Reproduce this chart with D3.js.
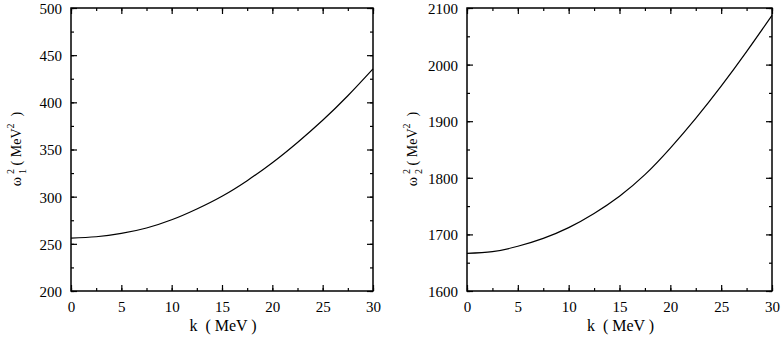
<!DOCTYPE html>
<html lang="en">
<head>
    <meta charset="UTF-8">
    <title>omega squared vs k</title>
    <script type="text/javascript" src="https://cdn.jsdelivr.net/npm/d3@7"></script>
    <style>
        body { margin: 0; background: #fff; }
        text { font-family: "Liberation Serif", "Times New Roman", serif; fill: #000; }
    </style>
</head>
<body>
    <script type="text/javascript">

        //Width and height
        var w = 781;
        var h = 341;

        // data
        var kValues = [0, 2.5, 5, 7.5, 10, 12.5, 15, 17.5, 20, 22.5, 25, 27.5, 30];
        var omega1Sq = [256, 257.5, 261, 266.8, 275.5, 287, 300.5, 317, 336, 357.5, 381, 407, 435.5];
        var omega2Sq = [1666.5, 1669.5, 1679, 1693, 1712, 1737, 1767.5, 1805.5, 1852.5, 1905, 1962, 2023, 2087];

        var kTicks = [0, 5, 10, 15, 20, 25, 30];
        var y1Ticks = [200, 250, 300, 350, 400, 450, 500];
        var y2Ticks = [1600, 1700, 1800, 1900, 2000, 2100];

        var svg = d3.select("body")
                    .append("svg")
                    .attr("width", w)
                    .attr("height", h);

        var panels = [
            { left: 71, right: 373, ys: omega1Sq, yDomain: [200, 500], yTicks: y1Ticks, yMinor: 25, labelX: 16, sub: "1" },
            { left: 467, right: 772, ys: omega2Sq, yDomain: [1600, 2100], yTicks: y2Ticks, yMinor: 50, labelX: 412, sub: "2" }
        ];
        var plotTop = 8, plotBottom = 291;

        panels.forEach(function(p) {
            var xScale = d3.scaleLinear().domain([0, 30]).range([p.left, p.right]);
            var yScale = d3.scaleLinear().domain(p.yDomain).range([plotBottom, plotTop]);

            var xMinor = d3.range(0, 30.01, 2.5);
            var yMinor = d3.range(p.yDomain[0], p.yDomain[1] + 0.01, p.yMinor);

            var g = svg.append("g");

            // minor ticks, all four sides, pointing inwards
            var minorAxes = [
                [d3.axisBottom(xScale).tickValues(xMinor), "translate(0," + plotBottom + ")"],
                [d3.axisTop(xScale).tickValues(xMinor), "translate(0," + plotTop + ")"],
                [d3.axisLeft(yScale).tickValues(yMinor), "translate(" + p.left + ",0)"],
                [d3.axisRight(yScale).tickValues(yMinor), "translate(" + p.right + ",0)"]
            ];
            minorAxes.forEach(function(a) {
                g.append("g")
                    .attr("transform", a[1])
                    .call(a[0].tickSize(-3).tickSizeOuter(0).tickFormat(""));
            });

            // major ticks
            g.append("g")
                .attr("class", "xaxis")
                .attr("transform", "translate(0," + plotBottom + ")")
                .call(d3.axisBottom(xScale).tickValues(kTicks).tickSize(-6).tickSizeOuter(0).tickPadding(10).tickFormat(d3.format("d")));
            g.append("g")
                .attr("transform", "translate(0," + plotTop + ")")
                .call(d3.axisTop(xScale).tickValues(kTicks).tickSize(-6).tickSizeOuter(0).tickFormat(""));
            g.append("g")
                .attr("class", "yaxis")
                .attr("transform", "translate(" + p.left + ",0)")
                .call(d3.axisLeft(yScale).tickValues(p.yTicks).tickSize(-6).tickSizeOuter(0).tickPadding(9).tickFormat(d3.format("d")));
            g.append("g")
                .attr("transform", "translate(" + p.right + ",0)")
                .call(d3.axisRight(yScale).tickValues(p.yTicks).tickSize(-6).tickSizeOuter(0).tickFormat(""));

            g.selectAll(".domain").remove();
            g.selectAll(".tick line").attr("stroke", "#000").attr("stroke-width", 1.2);
            g.selectAll(".tick text").attr("font-size", 15).attr("font-family", "Liberation Serif");
            g.selectAll(".yaxis .tick text").attr("dy", "0.36em");

            // frame
            g.append("rect")
                .attr("x", p.left)
                .attr("y", plotTop)
                .attr("width", p.right - p.left)
                .attr("height", plotBottom - plotTop)
                .attr("fill", "none")
                .attr("stroke", "#000")
                .attr("stroke-width", 1.5);

            // curve
            var line = d3.line()
                .x(function(d, i) { return xScale(kValues[i]); })
                .y(function(d) { return yScale(d); })
                .curve(d3.curveNatural);

            g.append("path")
                .datum(p.ys)
                .attr("d", line)
                .attr("fill", "none")
                .attr("stroke", "#000")
                .attr("stroke-width", 1.2);

            // x label
            g.append("text")
                .attr("x", (p.left + p.right) / 2 + 1)
                .attr("y", 331)
                .attr("text-anchor", "middle")
                .attr("font-size", 16)
                .attr("xml:space", "preserve")
                .text("k  ( MeV )");

            // y label, rotated
            var yl = g.append("text")
                .attr("transform", "translate(" + p.labelX + ",149) rotate(-90)")
                .attr("text-anchor", "middle")
                .attr("dy", "0.35em")
                .attr("font-size", 14)
                .attr("xml:space", "preserve");
            yl.append("tspan").text("\u03c9");
            yl.append("tspan").attr("font-size", 10).attr("dx", 3).attr("dy", -7).text("2");
            yl.append("tspan").attr("font-size", 10).attr("dx", -5).attr("dy", 12).text(p.sub);
            yl.append("tspan").attr("dy", -5).text(" ( MeV");
            yl.append("tspan").attr("font-size", 10).attr("dy", -7).text("2");
            yl.append("tspan").attr("dy", 7).text("  )");
        });

    </script>
</body>
</html>
